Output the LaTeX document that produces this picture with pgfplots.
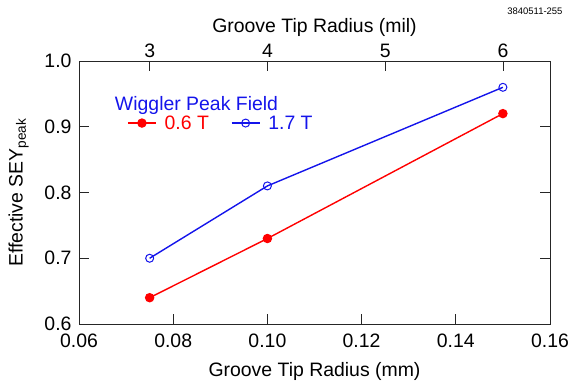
\documentclass[border=0pt]{standalone}
\usepackage{fontspec}
\setmainfont{Liberation Sans}
\usepackage{pgfplots}
\pgfplotsset{compat=1.18}
\definecolor{myred}{RGB}{255,0,0}
\definecolor{myblue}{RGB}{20,20,235}
\newcommand{\bigf}{\fontsize{19.5}{23}\selectfont}
\begin{document}
\begin{tikzpicture}
\path[use as bounding box] (0bp,0bp) rectangle (571bp,382bp);
\begin{axis}[
  at={(79bp,58bp)}, anchor=south west, scale only axis,
  width=471bp, height=263bp,
  xmin=0.06, xmax=0.16, ymin=0.6, ymax=1.0,
  xtick={0.06,0.08,0.10,0.12,0.14,0.16},
  ytick={0.6,0.7,0.8,0.9,1.0},
  xtick pos=lower, ytick pos=both,
  tick align=inside, major tick length=10bp,
  axis line style={black!85, line width=0.9bp},
  every tick/.style={black!85, line width=0.8bp},
  /pgf/number format/assume math mode=true,
  xticklabel style={yshift=-6bp, /pgf/number format/.cd, fixed, fixed zerofill, precision=2},
  yticklabel style={xshift=-4bp, /pgf/number format/.cd, fixed, fixed zerofill, precision=1},
  tick label style={font=\bigf},
  label style={font=\bigf},
  xlabel={Groove Tip Radius (mm)},
  xlabel style={yshift=-8bp},
  ylabel={Effective SEY\textsubscript{peak}},
  ylabel style={yshift=9bp},
  legend columns=2,
  legend style={draw=none, fill=none, at={(0.102,0.764)}, anchor=west, font=\bigf, inner sep=0pt,
     nodes={inner sep=0pt},
     /tikz/every odd column/.append style={column sep=8bp},
     /tikz/every even column/.append style={column sep=22bp}},
  legend image code/.code={
     \draw[mark repeat=2,mark phase=2] plot coordinates {(0bp,0bp) (14bp,0bp) (28bp,0bp)};},
]
\addplot[myred, line width=1.4bp, mark=*, mark size=4bp, mark options={fill=myred, draw=myred}]
  coordinates {(0.075,0.64) (0.10,0.73) (0.15,0.92)};
\addlegendentry{\textcolor{myred}{0.6 T}}
\addplot[myblue, line width=1.4bp, mark=o, mark size=4bp, mark options={fill=white, draw=myblue, line width=1bp}]
  coordinates {(0.075,0.70) (0.10,0.81) (0.15,0.96)};
\addlegendentry{\textcolor{myblue}{1.7 T}}
\node[anchor=west, text=myblue, font=\bigf, inner sep=0pt] at (rel axis cs:0.076,0.830) {Wiggler Peak Field};
\end{axis}
\begin{axis}[
  at={(79bp,58bp)}, anchor=south west, scale only axis,
  width=471bp, height=263bp,
  xmin=0.06, xmax=0.16, ymin=0.6, ymax=1.0,
  axis x line*=top, hide y axis,
  xtick={0.075,0.1,0.125,0.15}, xticklabels={3,4,5,6},
  tick align=inside, major tick length=10bp,
  axis line style={black!85, line width=0.9bp},
  every tick/.style={black!85, line width=0.8bp},
  tick label style={font=\bigf},
  label style={font=\bigf},
  xlabel={Groove Tip Radius (mil)},
]
\end{axis}
\node[anchor=east, font=\fontsize{9.5}{11}\selectfont] at (566bp,371bp) {3840511-255};
\end{tikzpicture}
\end{document}
